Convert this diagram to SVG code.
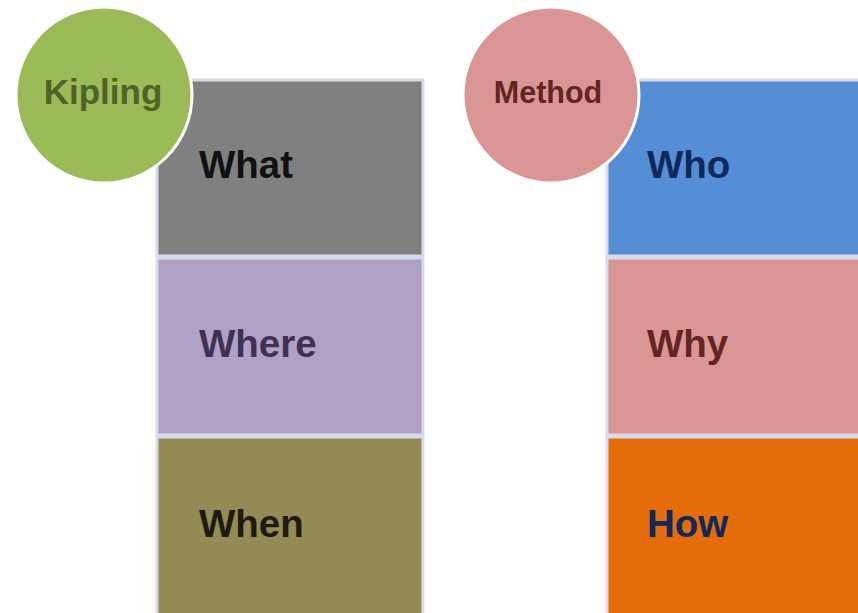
<svg xmlns="http://www.w3.org/2000/svg" width="858" height="613" viewBox="0 0 858 613">
<style>
  .box { stroke: #d7dbec; stroke-width: 3; }
  .circ { stroke: #ffffff; stroke-width: 3; }
  .lbl { font-family: "Liberation Sans", Arial, sans-serif; font-weight: bold; font-size: 38.5px; }
  .clbl { font-family: "Liberation Sans", Arial, sans-serif; font-weight: bold; text-anchor: middle; }
</style>
<rect width="858" height="613" fill="#ffffff"/>
<g id="connectors"/>
<g id="what">
  <rect class="box" x="157" y="80" width="266" height="176" fill="#808080"/>
  <text class="lbl" x="199" y="178" fill="#111111">What</text>
</g>
<g id="where">
  <rect class="box" x="157" y="258" width="266" height="177" fill="#b2a1c7"/>
  <text class="lbl" x="199" y="357" fill="#3f3151">Where</text>
</g>
<g id="when">
  <rect class="box" x="157" y="437" width="266" height="178" fill="#948a54"/>
  <text class="lbl" x="199" y="537" fill="#1d1b10">When</text>
</g>
<g id="who">
  <rect class="box" x="607" y="80" width="260" height="176" fill="#558ed5"/>
  <text class="lbl" x="647" y="178" fill="#10285a">Who</text>
</g>
<g id="why">
  <rect class="box" x="607" y="258" width="260" height="177" fill="#d99694"/>
  <text class="lbl" x="647" y="357" fill="#632523">Why</text>
</g>
<g id="how">
  <rect class="box" x="607" y="437" width="260" height="178" fill="#e46c0a"/>
  <text class="lbl" x="647" y="537" fill="#10285a">How</text>
</g>
<g id="kipling">
  <circle class="circ" cx="104" cy="95" r="88" fill="#9bbb59"/>
  <text class="clbl" x="103" y="104" font-size="35" fill="#4f6228">Kipling</text>
</g>
<g id="method">
  <circle class="circ" cx="551" cy="95" r="88" fill="#d99694"/>
  <text class="clbl" x="548" y="103" font-size="30.5" fill="#632523">Method</text>
</g>
</svg>
